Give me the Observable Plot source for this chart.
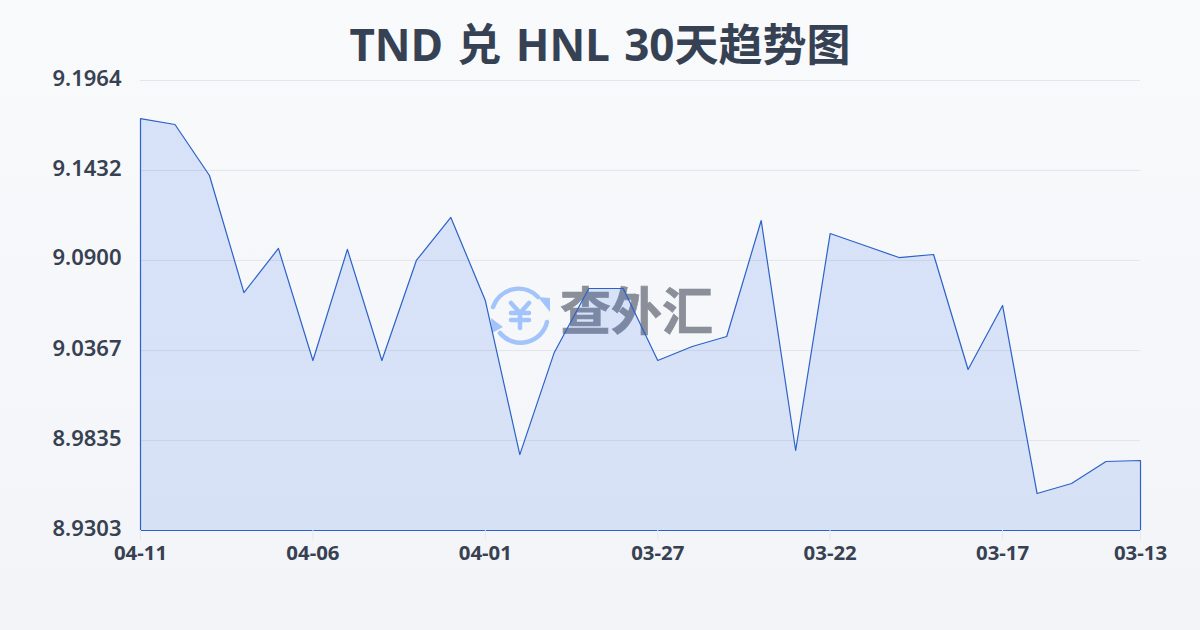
<!DOCTYPE html>
<html lang="zh">
<head>
<meta charset="utf-8">
<script src="https://cdn.jsdelivr.net/npm/d3@7"></script>
<script src="https://cdn.jsdelivr.net/npm/@observablehq/plot@0.6"></script>
<style>
html,body{margin:0;padding:0;width:1200px;height:630px;overflow:hidden;}
body{background:linear-gradient(180deg,#f8fafc 0%,#f2f4f7 100%);position:relative;font-family:"Noto Sans","Noto Sans CJK SC",sans-serif;}
#title{position:absolute;left:0;top:0;width:1200px;height:70px;line-height:88px;text-align:center;font-size:44px;word-spacing:3px;font-weight:700;color:#364153;font-family:"Noto Sans","Noto Sans CJK SC",sans-serif;}
#wm{position:absolute;left:490px;top:284px;width:230px;height:62px;}
#wm-text{position:absolute;left:70px;top:-8px;font-size:51px;line-height:64px;font-weight:700;color:#8a8f99;-webkit-text-stroke:0.7px #8a8f99;font-family:"Noto Sans CJK SC",sans-serif;white-space:nowrap;}
#chart{position:absolute;left:0;top:70px;}
</style>
</head>
<body>
<div id="title">TND 兑 HNL 30天趋势图</div>
<div id="wm">
<svg width="62" height="62" viewBox="0 0 62 62" fill="none" stroke="#a3c4fa" stroke-linecap="round" stroke-linejoin="round">
<path d="M3 23 A27 27 0 0 1 48 13" stroke-width="4.5"/>
<path d="M48 13 L60 14 L60 28 Z" fill="#a3c4fa" stroke="none"/>
<path d="M57 38 A27 27 0 0 1 10 49" stroke-width="4.5"/>
<path d="M1 34 L13 43 L2 49 Z" fill="#a3c4fa" stroke="none"/>
<path d="M21 19 L30 29 L39 19 M30 29 L30 44 M21 29 L39 29 M21 36 L39 36" stroke-width="4.5"/>
</svg>
<div id="wm-text">查外汇</div>
</div>
<div id="chart"></div>
<script>
const dates = ["04-11","04-10","04-09","04-08","04-07","04-06","04-05","04-04","04-03","04-02","04-01","03-31","03-30","03-29","03-28","03-27","03-26","03-25","03-24","03-23","03-22","03-21","03-20","03-19","03-18","03-17","03-16","03-15","03-14","03-13"];
const rates = [9.1739,9.1704,9.1402,9.0710,9.0971,9.0308,9.0965,9.0308,9.0900,9.1154,9.0663,8.9752,9.0356,9.0734,9.0734,9.0308,9.0391,9.0450,9.1136,8.9776,9.1059,9.0988,9.0917,9.0935,9.0255,9.0634,8.9522,8.9581,8.9711,8.9717];
const yTicks = [9.1964,9.1432,9.0900,9.0367,8.9835,8.9303];
const xTicks = ["04-11","04-06","04-01","03-27","03-22","03-17","03-13"];
const yBase = 8.9303;
const rows = dates.map((d,i)=>({date:d,rate:rates[i]}));

const gradient = () => {
  const ns = "http://www.w3.org/2000/svg";
  const defs = document.createElementNS(ns,"defs");
  defs.innerHTML = `<linearGradient id="areaFill" x1="0" y1="0" x2="0" y2="1">
    <stop offset="0%" stop-color="#2563eb" stop-opacity="0.15"/>
    <stop offset="100%" stop-color="#2563eb" stop-opacity="0.135"/>
  </linearGradient>`;
  return defs;
};

const plot = Plot.plot({
  width:1200, height:560,
  marginTop:10, marginRight:60, marginBottom:100, marginLeft:140,
  style:{background:"transparent",fontFamily:'"Noto Sans","Noto Sans CJK SC",sans-serif',overflow:"visible"},
  x:{type:"point",domain:dates,padding:0,round:false,label:null},
  y:{domain:[yBase,yTicks[0]],label:null},
  marks:[
    gradient,
    Plot.gridY(yTicks,{stroke:"#e2e5eb",strokeOpacity:1,strokeWidth:1}),
    Plot.areaY(rows,{x:"date",y1:()=>yBase,y2:"rate",fill:"url(#areaFill)",stroke:"#2c62c8",strokeWidth:1.2,dx:0.5,dy:0.5,curve:"linear"}),
    Plot.axisY({ticks:yTicks,tickSize:0,tickPadding:19,dy:-2,tickFormat:d=>d.toFixed(4),fontSize:22,fontWeight:600,fill:"#374151",label:null}),
    Plot.axisX({ticks:xTicks,tickSize:10,tickPadding:5,stroke:"#e6e8ec",fontSize:20.4,fontWeight:700,fill:"#374151",label:null,textStroke:"none"})
  ]
});
document.getElementById("chart").appendChild(plot);
</script>
</body>
</html>
